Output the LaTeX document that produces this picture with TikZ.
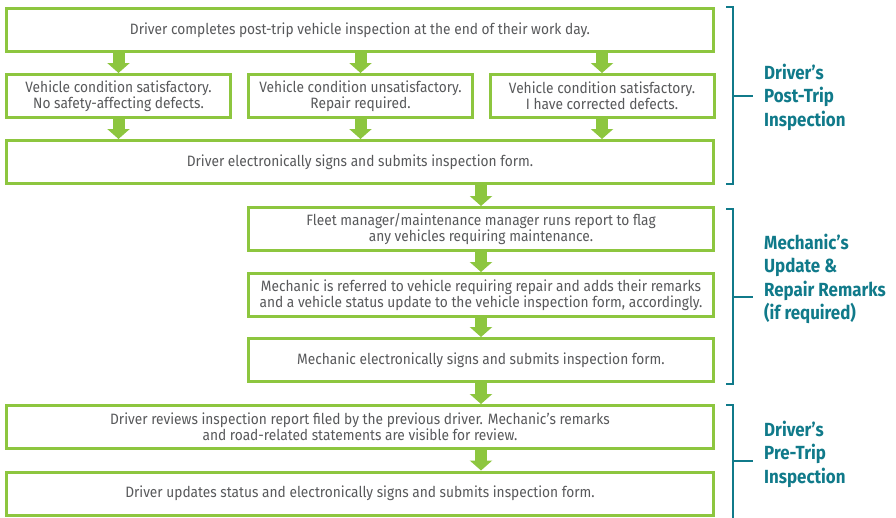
\documentclass[tikz,border=0pt]{standalone}
\usepackage{fontspec}
\setmainfont{Fira Sans}[FakeStretch=0.915]
\newfontfamily\labelfont{Fira Sans}[FakeStretch=0.89]
\usepackage{tikz}
\usepackage{xcolor}
\usetikzlibrary{arrows.meta}
\definecolor{boxgreen}{RGB}{141,198,63}
\definecolor{textgray}{RGB}{88,89,91}
\definecolor{labelteal}{RGB}{16,122,138}
\begin{document}
\begin{tikzpicture}[x=1pt,y=-1pt]
			\useasboundingbox (0,0) rectangle (896,517);
			\tikzstyle{flowbox}=[draw=boxgreen, line width=3pt, fill=white, text=textgray, align=center, inner sep=0pt, minimum height=43pt, font=\fontsize{15}{16}\selectfont]
			\tikzstyle{widebox}=[flowbox, minimum width=707pt]
			\tikzstyle{midbox}=[flowbox, minimum width=465pt]
			\tikzstyle{smallbox}=[flowbox, minimum width=224pt]
			\tikzstyle{flowarrow}=[boxgreen, line width=12pt, -{Triangle[length=10pt,width=22pt]}]
			\tikzstyle{bracket}=[labelteal, line width=1.5pt]
			\tikzstyle{phase}=[text=labelteal, align=left, anchor=west, inner sep=0pt, font=\labelfont\bfseries\fontsize{19}{23.5}\selectfont]
			
			\node[widebox] (complete) at (360,30) {Driver completes post-trip vehicle inspection at the end of their work day.};
			\node[smallbox] (okay) at (118.5,96) {Vehicle condition satisfactory.\\No safety-affecting defects.};
			\node[smallbox] (repair) at (360.5,96) {Vehicle condition unsatisfactory.\\Repair required.};
			\node[smallbox] (fixed) at (602,96) {Vehicle condition satisfactory.\\I have corrected defects.};
			\node[widebox] (driversign) at (360,162) {Driver electronically signs and submits inspection form.};
			\node[midbox] (report) at (481,229) {Fleet manager/maintenance manager runs report to flag\\ any vehicles requiring maintenance.};
			\node[midbox] (remarks) at (481,295) {Mechanic is referred to vehicle requiring repair and adds their remarks\\and a vehicle status update to the vehicle inspection form, accordingly.};
			\node[midbox] (mechsign) at (481,360) {Mechanic electronically signs and submits inspection form.};
			\node[widebox] (review) at (360,427) {Driver reviews inspection report filed by the previous driver. Mechanic’s remarks\\and road-related statements are visible for review.};
			\node[widebox] (update) at (360,493.5) {Driver updates status and electronically signs and submits inspection form.};
			
			\draw[flowarrow] (complete.south -| okay) to (okay.north);
			\draw[flowarrow] (complete.south -| repair) to (repair.north);
			\draw[flowarrow] (complete.south -| fixed) to (fixed.north);
			\draw[flowarrow] (okay.south) to (driversign.north -| okay);
			\draw[flowarrow] (repair.south) to (driversign.north -| repair);
			\draw[flowarrow] (fixed.south) to (driversign.north -| fixed);
			\draw[flowarrow] (driversign.south -| report) to (report.north);
			\draw[flowarrow] (report.south) to (remarks.north);
			\draw[flowarrow] (remarks.south) to (mechsign.north);
			\draw[flowarrow] (mechsign.south) to (review.north -| mechsign);
			\draw[flowarrow] (review.south -| mechsign) to (update.north -| mechsign);
			
			\draw[bracket] (726,7) -| (733,184) -- (726,184);
			\draw[bracket] (733,96) -- (753,96);
			\draw[bracket] (726,209) -| (733,384) -- (726,384);
			\draw[bracket] (733,297) -- (753,297);
			\draw[bracket] (726,405) -| (733,520);
			\draw[bracket] (733,461) -- (753,461);
			
			\node[phase] (posttrip) at (764,97) {Driver’s\\Post-Trip\\Inspection};
			\node[phase] (mechanic) at (764,279) {Mechanic’s\\Update \&\\Repair Remarks\\(if required)};
			\node[phase] (pretrip) at (764,454) {Driver’s\\Pre-Trip\\Inspection};
		\end{tikzpicture}
\end{document}
